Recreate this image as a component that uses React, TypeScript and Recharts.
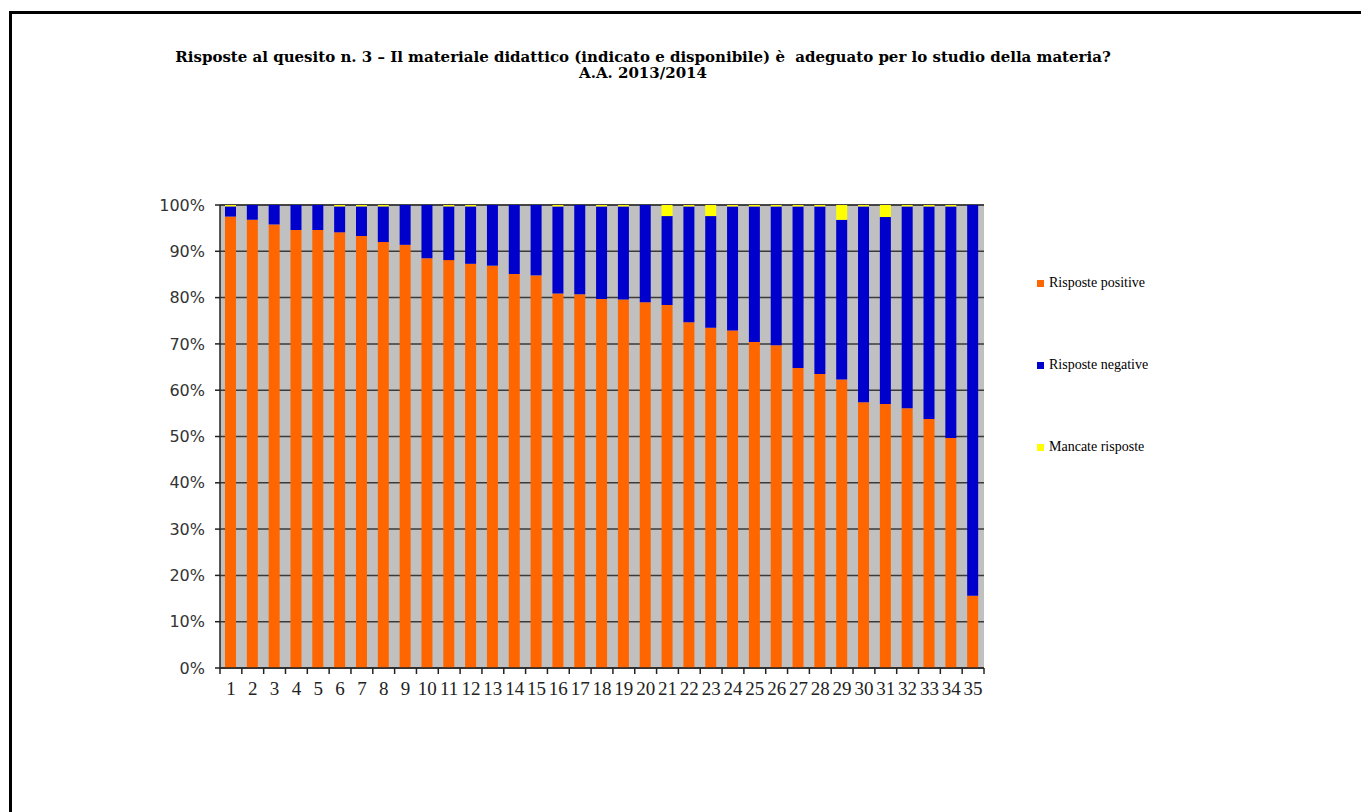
import React from "react";
import { BarChart, Bar, XAxis, YAxis, CartesianGrid } from "recharts";

const categories = Array.from({ length: 35 }, (_, i) => String(i + 1));
const positive = [97.5, 96.8, 95.8, 94.6, 94.6, 94.1, 93.3, 92.0, 91.4, 88.5, 88.1, 87.3, 86.9, 85.1, 84.8, 80.9, 80.7, 79.7, 79.6, 79.0, 78.4, 74.7, 73.5, 72.9, 70.4, 69.7, 64.8, 63.5, 62.3, 57.4, 57.0, 56.1, 53.8, 49.7, 15.6];
const negative = [2.2, 3.2, 4.2, 5.4, 5.4, 5.6, 6.4, 7.7, 8.6, 11.5, 11.6, 12.4, 13.1, 14.9, 15.2, 18.8, 19.3, 20.0, 20.1, 21.0, 19.2, 25.0, 24.1, 26.8, 29.3, 30.0, 34.9, 36.2, 34.5, 42.3, 40.4, 43.6, 45.9, 50.0, 84.4];
const missing = [0.3, 0, 0, 0, 0, 0.3, 0.3, 0.3, 0, 0, 0.3, 0.3, 0, 0, 0, 0.3, 0, 0.3, 0.3, 0, 2.4, 0.3, 2.4, 0.3, 0.3, 0.3, 0.3, 0.3, 3.2, 0.3, 2.6, 0.3, 0.3, 0.3, 0];
const yTicks = [0, 10, 20, 30, 40, 50, 60, 70, 80, 90, 100];

const seriesNames = ["Risposte positive", "Risposte negative", "Mancate risposte"];
const seriesColors = ["#FF6600", "#0000CC", "#FFFF00"];

const data = categories.map((c, i) => ({
  name: c,
  pos: positive[i],
  neg: negative[i],
  miss: missing[i],
}));

const XTick = (props: any) => {
  const { x, y, payload, width, index } = props;
  const band = width / categories.length;
  const axisY = y - 8;
  return (
    <g>
      <line x1={x - band / 2} x2={x - band / 2} y1={axisY} y2={axisY + 6} stroke="#222" strokeWidth={1.5} />
      {index === categories.length - 1 && (
        <line x1={x + band / 2} x2={x + band / 2} y1={axisY} y2={axisY + 6} stroke="#222" strokeWidth={1.5} />
      )}
      <text x={x} y={y + 6} dy="0.71em" textAnchor="middle" fill="#222" fontFamily="'Liberation Serif', serif" fontSize={19}>
        {payload.value}
      </text>
    </g>
  );
};

export default function App() {
  return (
    <div style={{ position: "absolute", left: 0, top: 0, width: 1361, height: 812, background: "#fff", overflow: "hidden" }}>
      <div style={{ position: "absolute", left: 9, top: 11, width: 1352, height: 801, borderTop: "3px solid #000", borderLeft: "3px solid #000", boxSizing: "border-box" }} />
      <div
        style={{
          position: "absolute",
          left: 0,
          top: 49,
          width: 1286,
          textAlign: "center",
          fontFamily: "'DejaVu Serif', serif",
          fontWeight: "bold",
          fontSize: 15,
          lineHeight: "16px",
          color: "#000",
          whiteSpace: "pre",
        }}
      >
        <div>Risposte al quesito n. 3 – Il materiale didattico (indicato e disponibile) è  adeguato per lo studio della materia?</div>
        <div>A.A. 2013/2014</div>
      </div>
      <div style={{ position: "absolute", left: 0, top: 0 }}>
        <BarChart
          width={1361}
          height={812}
          data={data}
          margin={{ top: 205, left: 160, right: 377, bottom: 114 }}
          barSize={11}
        >
          <CartesianGrid horizontal vertical={false} fill="#C0C0C0" stroke="#3a3a3a" strokeWidth={1.5} />
          <XAxis dataKey="name" interval={0} tickLine={false} height={30} tick={<XTick />} axisLine={{ stroke: "#222", strokeWidth: 1.5 }} />
          <YAxis
            domain={[0, 100]}
            ticks={yTicks}
            width={60}
            interval={0}
            tickFormatter={(v: number) => `${v}%`}
            tick={{ fill: "#333", fontFamily: "'DejaVu Sans', sans-serif", fontSize: 16 }}
            tickSize={5}
            tickMargin={10}
            axisLine={{ stroke: "#222", strokeWidth: 1.5 }}
            tickLine={{ stroke: "#222", strokeWidth: 1.5 }}
          />
          <Bar dataKey="pos" stackId="a" fill={seriesColors[0]} isAnimationActive={false} />
          <Bar dataKey="neg" stackId="a" fill={seriesColors[1]} isAnimationActive={false} />
          <Bar dataKey="miss" stackId="a" fill={seriesColors[2]} isAnimationActive={false} />
        </BarChart>
      </div>
      <div style={{ position: "absolute", left: 1037, top: 273, fontFamily: "'Liberation Serif', serif", fontSize: 14, color: "#000" }}>
        {seriesNames.map((n, i) => (
          <div key={n} style={{ display: "flex", alignItems: "center", height: 20, marginBottom: i < 2 ? 62 : 0 }}>
            <span style={{ display: "inline-block", width: 7, height: 7, background: seriesColors[i], marginRight: 5 }} />
            <span>{n}</span>
          </div>
        ))}
      </div>
    </div>
  );
}
